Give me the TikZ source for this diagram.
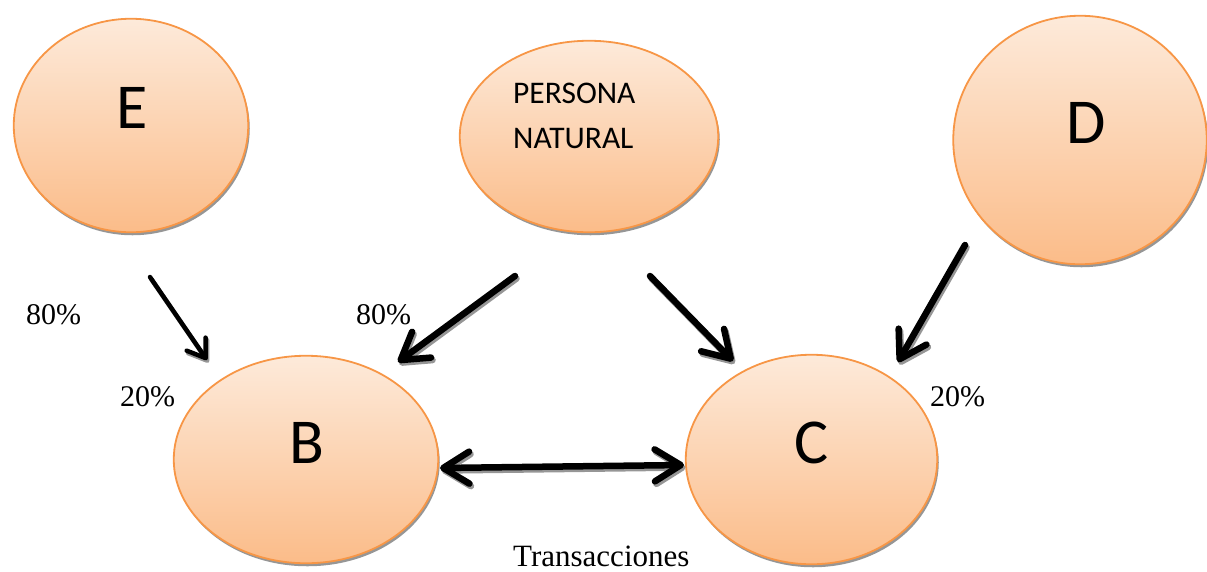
\documentclass[tikz,border=0pt]{standalone}
\usepackage{fontspec}
\setmainfont{Liberation Serif}
\newfontfamily\calib{Carlito}
\usetikzlibrary{arrows.meta,shadows,shapes.geometric}

\definecolor{toporange}{RGB}{253,234,218}
\definecolor{botorange}{RGB}{251,188,137}
\definecolor{rimorange}{RGB}{247,150,70}
\definecolor{shadegray}{RGB}{150,150,150}

\tikzset{
  bubble/.style={ellipse, draw=rimorange, line width=1.8pt, inner sep=0pt,
    top color=toporange, bottom color=botorange,
    drop shadow={shadow xshift=1.5pt, shadow yshift=-3pt, fill=shadegray, opacity=1}},
  bigletter/.style={inner sep=0pt, font=\calib\fontsize{64}{70}\selectfont},
  smalltext/.style={inner sep=0pt, anchor=base west, font=\calib\fontsize{31.5}{36}\selectfont},
  pct/.style={inner sep=0pt, anchor=base west, font=\fontsize{30}{34}\selectfont},
  bigarrow/.style={line width=6.5pt, line cap=round,
    -{Straight Barb[round, length=26pt, width=32pt]}},
  bigdouble/.style={line width=6.5pt, line cap=round,
    {Straight Barb[round, length=26pt, width=32pt]}-{Straight Barb[round, length=26pt, width=32pt]}},
  smallarrow/.style={line width=4.5pt, line cap=round,
    -{Straight Barb[round, length=17pt, width=23pt]}},
  ghost/.style={draw=shadegray, transform canvas={shift={(1.5pt,-2.5pt)}}},
}

\begin{document}
\begin{tikzpicture}[x=1pt, y=-1pt]
  \useasboundingbox (0,0) rectangle (1207,571);

  % circles
  \node[bubble, minimum width=234.5pt, minimum height=213.5pt] (E)  at (131,125.5) {};
  \node[bubble, minimum width=258.5pt, minimum height=191.5pt] (PN) at (589,136.5) {};
  \node[bubble, minimum width=253.5pt, minimum height=248.5pt] (D)  at (1080,140) {};
  \node[bubble, minimum width=264.5pt, minimum height=207.5pt] (B)  at (306,459.5) {};
  \node[bubble, minimum width=251.5pt, minimum height=209.5pt] (C)  at (811.5,459.5) {};

  % letters inside the circles
  \node[bigletter] (tE) at (132,107.5) {E};
  \node[bigletter] (tD) at (1086,123) {D};
  \node[bigletter] (tB) at (307,442.5) {B};
  \node[bigletter] (tC) at (812,443) {C};
  \node[smalltext] (tP1) at (513,103) {PERSONA};
  \node[smalltext] (tP2) at (513,148) {NATURAL};

  % percentages and caption
  \node[pct] (p80a) at (26,324) {80\%};
  \node[pct] (p80b) at (356,324) {80\%};
  \node[pct] (p20a) at (120,406) {20\%};
  \node[pct] (p20b) at (930,406) {20\%};
  \node[pct, font=\fontsize{31}{34}\selectfont] (trans) at (513,566) {Transacciones};

  % arrow end points
  \coordinate (e1) at (150,277);  \coordinate (b1) at (207,360);
  \coordinate (p1) at (515,276);  \coordinate (b2) at (398,362);
  \coordinate (p2) at (650,276);  \coordinate (c1) at (733,361);
  \coordinate (d1) at (965,245);  \coordinate (c2) at (898,362);
  \coordinate (b3) at (440,468);  \coordinate (c3) at (684,465);

  % arrows with their grey shadows
  \foreach \a/\b/\k in {e1/b1/smallarrow, p1/b2/bigarrow, p2/c1/bigarrow, d1/c2/bigarrow, b3/c3/bigdouble} {
    \draw[\k, ghost] (\a) -- (\b);
    \draw[\k] (\a) -- (\b);
  }
\end{tikzpicture}
\end{document}
